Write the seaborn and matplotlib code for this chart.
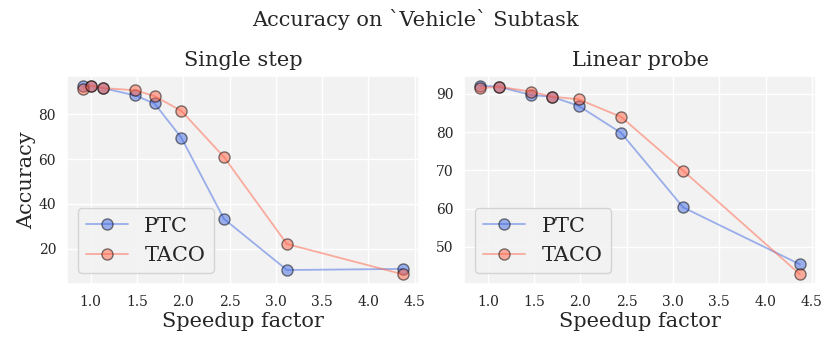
import numpy as np
import pandas as pd
import seaborn as sns
import matplotlib
matplotlib.use("Agg")
import matplotlib.pyplot as plt

# Data
single_x = [0.92, 1.0, 1.13, 1.48, 1.69, 1.98, 2.44, 3.12, 4.37]
single_ptc = [92.4, 92.7, 91.7, 88.4, 84.8, 69.5, 33.3, 10.5, 11.0]
single_taco = [91.4, 92.8, 91.7, 90.7, 88.1, 81.5, 60.9, 22.1, 8.6]

probe_x = [0.92, 1.12, 1.47, 1.69, 1.98, 2.44, 3.11, 4.37]
probe_ptc = [92.2, 91.9, 89.7, 89.3, 86.9, 79.8, 60.3, 45.4]
probe_taco = [91.5, 91.9, 90.6, 89.3, 88.6, 84.0, 69.9, 42.8]

methods = ["PTC", "TACO"]
panel_titles = ["Single step", "Linear probe"]
colors = {"PTC": "royalblue", "TACO": "tomato"}

sns.set_theme(style="darkgrid", rc={
    "axes.facecolor": "#f2f2f2",
    "grid.color": "white",
})
plt.rcParams["font.family"] = ["DejaVu Serif"]

fig, axes = plt.subplots(1, 2, figsize=(8.3, 3.46), dpi=100)

panels = [
    (single_x, single_ptc, single_taco),
    (probe_x, probe_ptc, probe_taco),
]
for ax, title, (xs, ptc, taco) in zip(axes, panel_titles, panels):
    df = pd.DataFrame({
        "x": list(xs) * 2,
        "acc": list(ptc) + list(taco),
        "method": ["PTC"] * len(xs) + ["TACO"] * len(xs),
    })
    for m in methods:
        sub = df[df.method == m]
        sns.lineplot(data=sub, x="x", y="acc", ax=ax, color=colors[m], alpha=0.5,
                     marker="o", markersize=8, markeredgecolor="black",
                     markeredgewidth=1.0, linewidth=1.3, label=m, sort=False)
    ax.set_title(title, fontsize=15, pad=7)
    ax.set_xlabel("Speedup factor", fontsize=15, labelpad=2)
    ax.set_ylabel("")
    ax.set_xticks([1.0, 1.5, 2.0, 2.5, 3.0, 3.5, 4.0, 4.5])
    ax.tick_params(axis="both", labelsize=10, pad=2)
    ax.legend(loc="lower left", fontsize=15, frameon=True, handlelength=2.0)

axes[0].set_ylabel("Accuracy", fontsize=15, labelpad=2)
fig.suptitle("Accuracy on `Vehicle` Subtask", fontsize=15, y=0.975)
fig.subplots_adjust(left=0.081, right=0.983, top=0.78, bottom=0.18, wspace=0.13)
fig.savefig("out.png", dpi=100)
